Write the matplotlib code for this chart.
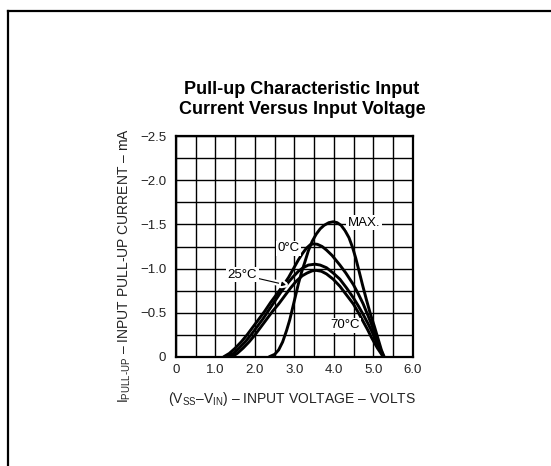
import matplotlib.pyplot as plt
import matplotlib.patheffects as pe
import numpy as np

plt.rcParams['font.family'] = ['Liberation Sans', 'DejaVu Sans']
plt.rcParams['mathtext.fontset'] = 'custom'
plt.rcParams['mathtext.rm'] = 'Liberation Sans'

# Data (voltage in volts, current magnitude in mA)
v_max = [2.35, 2.5, 2.6, 2.7, 2.8, 2.88, 2.95, 3.02, 3.1, 3.18, 3.26, 3.35, 3.45, 3.55, 3.65, 3.75,
         3.87, 3.98, 4.08, 4.18, 4.28, 4.38, 4.47, 4.55, 4.63, 4.72, 4.82, 4.92, 5.02, 5.12, 5.2, 5.27]
i_max = [0.0, 0.03, 0.08, 0.17, 0.3, 0.42, 0.55, 0.68, 0.83, 0.96, 1.07, 1.2, 1.31, 1.39, 1.45, 1.49,
         1.52, 1.53, 1.52, 1.49, 1.43, 1.35, 1.24, 1.12, 0.98, 0.82, 0.65, 0.49, 0.35, 0.2, 0.08, 0.0]

v_0c = [1.2, 1.35, 1.5, 1.65, 1.8, 1.95, 2.1, 2.25, 2.4, 2.55, 2.7, 2.85, 3.0, 3.1, 3.2, 3.3, 3.4,
        3.48, 3.58, 3.7, 3.81, 3.95, 4.15, 4.3, 4.49, 4.62, 4.74, 4.85, 4.95, 5.06, 5.16, 5.27]
i_0c = [0.0, 0.04, 0.1, 0.17, 0.25, 0.34, 0.43, 0.52, 0.62, 0.71, 0.8, 0.9, 1.02, 1.1, 1.17, 1.23, 1.27,
        1.28, 1.275, 1.25, 1.21, 1.15, 1.04, 0.95, 0.82, 0.71, 0.6, 0.48, 0.37, 0.23, 0.1, 0.0]

v_25c = [1.3, 1.45, 1.6, 1.75, 1.9, 2.05, 2.2, 2.35, 2.5, 2.65, 2.8, 2.95, 3.1, 3.22, 3.35, 3.52,
         3.65, 3.81, 3.98, 4.15, 4.32, 4.49, 4.62, 4.74, 4.87, 5.0, 5.12, 5.25]
i_25c = [0.0, 0.04, 0.1, 0.17, 0.25, 0.34, 0.43, 0.53, 0.63, 0.73, 0.82, 0.9, 0.97, 1.01, 1.04, 1.05,
         1.04, 1.01, 0.95, 0.88, 0.78, 0.67, 0.575, 0.48, 0.37, 0.25, 0.12, 0.0]

v_70c = [1.4, 1.55, 1.7, 1.85, 2.0, 2.15, 2.3, 2.45, 2.6, 2.75, 2.9, 3.05, 3.2, 3.32, 3.45, 3.55,
         3.68, 3.81, 3.98, 4.15, 4.32, 4.49, 4.62, 4.74, 4.85, 4.95, 5.1, 5.25]
i_70c = [0.0, 0.04, 0.1, 0.17, 0.25, 0.34, 0.43, 0.52, 0.6, 0.69, 0.78, 0.86, 0.92, 0.95, 0.975, 0.98,
         0.97, 0.94, 0.88, 0.8, 0.7, 0.6, 0.5, 0.4, 0.31, 0.22, 0.1, 0.0]

x_ticks = [0, 1, 2, 3, 4, 5, 6]
x_labels = ['0', '1.0', '2.0', '3.0', '4.0', '5.0', '6.0']
y_ticks = [0, 0.5, 1.0, 1.5, 2.0, 2.5]
y_labels = ['0', '\u22120.5', '\u22121.0', '\u22121.5', '\u22122.0', '\u22122.5']

fig = plt.figure(figsize=(5.51, 4.66), dpi=100)
ax = fig.add_axes([0.3194, 0.234, 0.4301, 0.474])

# outer frame (top and left edges only)
fig.add_artist(plt.Line2D([8/551, 1.0], [1 - 11/466, 1 - 11/466], color='black', lw=1.6))
fig.add_artist(plt.Line2D([8/551, 8/551], [0.0, 1 - 11/466], color='black', lw=1.6))

ax.set_xlim(0, 6)
ax.set_ylim(0, 2.5)
ax.set_xticks(x_ticks)
ax.set_xticklabels(x_labels)
ax.set_yticks(y_ticks)
ax.set_yticklabels(y_labels)
ax.set_xticks(np.arange(0, 6.01, 0.5), minor=True)
ax.set_yticks(np.arange(0, 2.51, 0.25), minor=True)
ax.tick_params(which='both', length=0, labelsize=9.5, colors='#222222')
ax.tick_params(axis='x', pad=5)
ax.tick_params(axis='y', pad=7)
ax.grid(which='both', color='black', lw=1.0)
for s in ax.spines.values():
    s.set_linewidth(1.6)

lw = 2.1
for v, i in [(v_max, i_max), (v_0c, i_0c), (v_25c, i_25c), (v_70c, i_70c)]:
    ax.plot(v, i, color='black', lw=lw, solid_capstyle='butt', solid_joinstyle='round')

box = dict(facecolor='white', edgecolor='none', pad=1.0)
ax.text(4.76, 1.52, 'MAX.', ha='center', va='center', fontsize=9.5, bbox=box)
ax.text(2.86, 1.23, '0\u00b0C', ha='center', va='center', fontsize=9.5, bbox=box)
ax.text(4.28, 0.36, '70\u00b0C', ha='center', va='center', fontsize=9.5, bbox=box)
ax.annotate('25\u00b0C', xy=(2.79, 0.815), xytext=(1.68, 0.93), ha='center', va='center',
            fontsize=9.5, bbox=box,
            arrowprops=dict(arrowstyle='-|>', color='black', lw=0.8, mutation_scale=6,
                            shrinkA=0, shrinkB=0,
                            path_effects=[pe.withStroke(linewidth=4, foreground='white')]))

fig.text(302/551, 1 - 90/466, 'Pull-up Characteristic Input', ha='center', va='center',
         fontsize=13, fontweight='bold')
fig.text(302/551, 1 - 110/466, 'Current Versus Input Voltage', ha='center', va='center',
         fontsize=13, fontweight='bold')

fig.text(292/551, 1 - 399/466,
         '(V$_\\mathregular{SS}$\u2013V$_\\mathregular{IN}$) \u2013 INPUT VOLTAGE \u2013 VOLTS',
         ha='center', va='center', fontsize=10, color='#222222')
fig.text(125/551, 1 - 266/466,
         'I$_\\mathregular{PULL\u2010UP}$ \u2013 INPUT PULL-UP CURRENT \u2013 mA',
         ha='center', va='center', rotation=90, fontsize=10, color='#222222')

fig.savefig('out.png', dpi=100)
